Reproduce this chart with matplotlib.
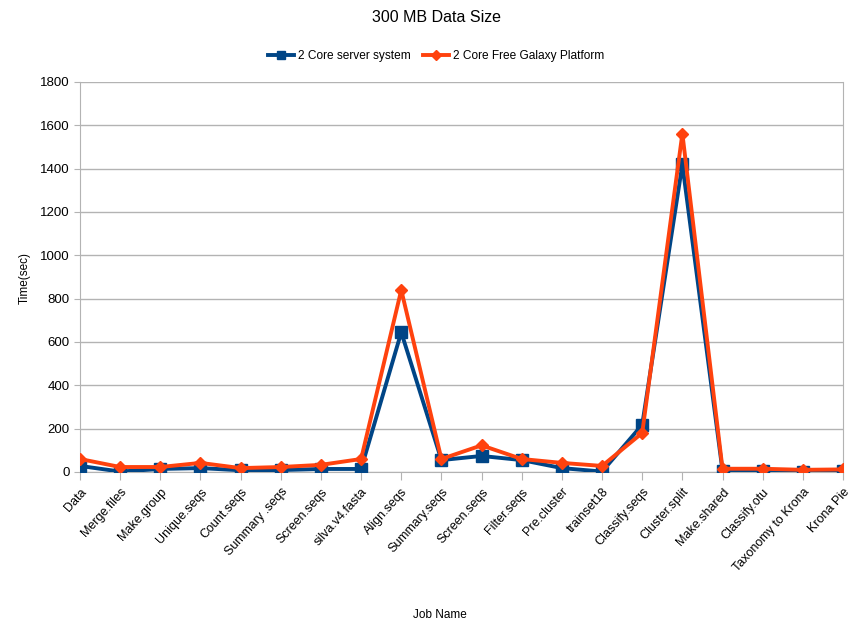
import numpy as np
import matplotlib.pyplot as plt

plt.rcParams['font.family'] = ['Liberation Sans', 'DejaVu Sans']

jobs = ['Data', 'Merge.files', 'Make.group', 'Unique.seqs', 'Count.seqs',
        'Summary .seqs', 'Screen.seqs', 'silva.v4.fasta', 'Align.seqs',
        'Summary.seqs', 'Screen.seqs', 'Filter.seqs', 'Pre.cluster',
        'trainset18', 'Classify.seqs', 'Cluster.split', 'Make.shared',
        'Classify.otu', 'Taxonomy to Krona', 'Krona Pie']

server = [28, 2, 14, 18, 8, 9, 14, 14, 645, 55, 74, 55, 18, 2, 218, 1420,
          5, 5, 2, 5]
galaxy = [60, 23, 23, 42, 18, 23, 33, 60, 840, 60, 123, 60, 42, 28, 180, 1562,
          15, 15, 10, 12]

fig = plt.figure(figsize=(8.55, 6.23), dpi=100)
ax = fig.add_axes([80/855, 1 - 472/623, (843-80)/855, (472-82)/623])

x = np.arange(len(jobs))
ax.plot(x, server, color='#004586', lw=2.8, marker='s', ms=8,
        label='2 Core server system', zorder=3)
ax.plot(x, galaxy, color='#ff420e', lw=2.8, marker='D', ms=6,
        label='2 Core Free Galaxy Platform', zorder=4)

ax.set_xlim(0, len(jobs) - 1)
ax.set_ylim(0, 1800)
ax.set_yticks(np.arange(0, 1801, 200))
ax.set_xticks(x)
ax.set_xticklabels(jobs, rotation=48, ha='right', rotation_mode='anchor',
                   fontsize=9)
ax.tick_params(axis='y', labelsize=9.5, length=4, color='#b3b3b3')
ax.tick_params(axis='x', length=6, color='#b3b3b3', pad=4)
ax.grid(axis='y', color='#b3b3b3', lw=1)
ax.set_axisbelow(True)
for s in ['left', 'right', 'bottom']:
    ax.spines[s].set_color('#b3b3b3')
ax.spines['top'].set_visible(False)
for lbl in ax.get_xticklabels():
    lbl.set_clip_on(False)

fig.text(436/855, 1 - 18/623, '300 MB Data Size',
         ha='center', va='center', fontsize=11.5)
ax.legend(loc='center', bbox_to_anchor=((436 - 80) / 763, (472 - 56) / 390),
          ncol=2, frameon=False, fontsize=8.6, handlelength=2.2,
          columnspacing=1.0, handletextpad=0.3, markerscale=0.8)
fig.text(25/855, 1 - 278/623, 'Time(sec)', rotation=90, ha='center',
         va='center', fontsize=8.5)
fig.text(440/855, 1 - 615/623, 'Job Name', ha='center', va='center',
         fontsize=8.5)

fig.savefig('out.png', dpi=100)
